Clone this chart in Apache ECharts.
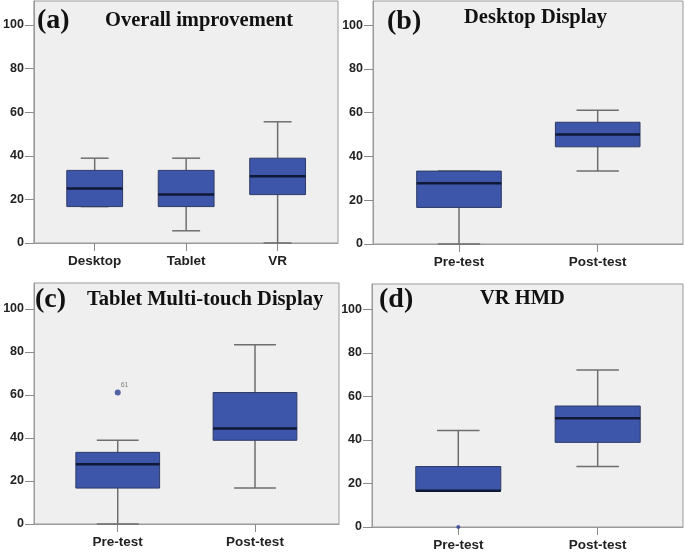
<!DOCTYPE html>
<html>
<head>
<meta charset="utf-8">
<script src="https://cdn.jsdelivr.net/npm/echarts@6/dist/echarts.min.js"></script>
<style>
html,body{margin:0;padding:0;background:#fff;}
#chart{width:685px;height:552px;}
</style>
</head>
<body>
<div id="chart"></div>
<script>
// ---- data ----
const catsA = ['Desktop', 'Tablet', 'VR'];
const catsPrePost = ['Pre-test', 'Post-test'];
const yTicks = [0, 20, 40, 60, 80, 100];
// [min, Q1, median, Q3, max]
const boxA = [[16.7, 16.7, 25.0, 33.3, 38.9], [5.6, 16.7, 22.2, 33.3, 38.9], [0, 22.2, 30.6, 38.9, 55.6]];
const boxB = [[0, 16.7, 27.8, 33.3, 33.3], [33.3, 44.4, 50.0, 55.6, 61.1]];
const boxC = [[0, 16.7, 27.8, 33.3, 38.9], [16.7, 38.9, 44.4, 61.1, 83.3]];
const boxD = [[16.7, 16.7, 16.7, 27.8, 44.4], [27.8, 38.9, 50.0, 55.6, 72.2]];
// outliers: [category index, value, label]
const outC = [[0, 61.1, '61']];
const outD = [[0, 0, '']];
const panelTags = ['(a)', '(b)', '(c)', '(d)'];
const panelTitles = ['Overall improvement', 'Desktop Display', 'Tablet Multi-touch Display', 'VR HMD'];

// ---- layout ----
const panels = [
  { cats: catsA, box: boxA, out: [], grid: { left: 30, top: 1, width: 308, height: 242 }, xr: [-0.665, 2.66], ymax: 111,
    tag: [37, 21], title: [105, 21] },
  { cats: catsPrePost, box: boxB, out: [], grid: { left: 373, top: 1, width: 310, height: 243 }, xr: [-0.62, 1.615], ymax: 111,
    tag: [387, 22], title: [464, 17.5] },
  { cats: catsPrePost, box: boxC, out: outC, grid: { left: 34, top: 283, width: 305, height: 241 }, xr: [-0.61, 1.612], ymax: 112,
    tag: [35, 300], title: [87, 299.5] },
  { cats: catsPrePost, box: boxD, out: outD, grid: { left: 372, top: 284, width: 311, height: 244 }, xr: [-0.619, 1.612], ymax: 111.7,
    tag: [379, 300], title: [480, 298.5] }
];

const BOX_W = 0.61;
const FILL = '#3d56aa', EDGE = '#2e3a66', WHISK = '#6e6e6e', MED = '#0f1834';
const AXIS_C = '#9a9a9a';

function renderBox(params, api) {
  const x = api.value(0);
  const vmin = api.value(1), q1 = api.value(2), med = api.value(3), q3 = api.value(4), vmax = api.value(5);
  const w = api.size([BOX_W, 0])[0];
  const pMin = api.coord([x, vmin]), pQ1 = api.coord([x, q1]), pMed = api.coord([x, med]);
  const pQ3 = api.coord([x, q3]), pMax = api.coord([x, vmax]);
  const cx = pMin[0];
  const cap = w / 2;
  const lineStyle = { stroke: WHISK, lineWidth: 1.5 };
  const children = [
    { type: 'line', shape: { x1: cx, y1: pMin[1], x2: cx, y2: pQ1[1] }, style: lineStyle },
    { type: 'line', shape: { x1: cx, y1: pQ3[1], x2: cx, y2: pMax[1] }, style: lineStyle },
    { type: 'line', shape: { x1: cx - cap / 2, y1: pMin[1], x2: cx + cap / 2, y2: pMin[1] }, style: lineStyle },
    { type: 'line', shape: { x1: cx - cap / 2, y1: pMax[1], x2: cx + cap / 2, y2: pMax[1] }, style: lineStyle },
    { type: 'rect', shape: { x: cx - w / 2, y: pQ3[1], width: w, height: pQ1[1] - pQ3[1] },
      style: { fill: FILL, stroke: EDGE, lineWidth: 1 } },
    { type: 'line', shape: { x1: cx - w / 2, y1: pMed[1], x2: cx + w / 2, y2: pMed[1] },
      style: { stroke: MED, lineWidth: 2.5 } }
  ];
  return { type: 'group', children: children };
}

const option = { animation: false, backgroundColor: '#ffffff', grid: [], xAxis: [], yAxis: [], series: [], title: [] };

panels.forEach((p, i) => {
  option.grid.push(Object.assign({ show: true, backgroundColor: '#efefef', borderColor: AXIS_C, borderWidth: 1, containLabel: false }, p.grid));
  const cats = p.cats;
  const idx = cats.map((c, k) => k);
  option.xAxis.push({
    type: 'value', gridIndex: i, min: p.xr[0], max: p.xr[1], position: 'bottom',
    axisLine: { show: true, onZero: false, lineStyle: { color: AXIS_C, width: 1 } },
    axisTick: { show: true, customValues: idx, length: 8, lineStyle: { color: '#8a8a8a', width: 1 } },
    axisLabel: { show: true, customValues: idx, margin: 11, formatter: v => cats[Math.round(v)] || '',
      color: '#222', fontFamily: 'Liberation Sans, Arial, sans-serif', fontWeight: 'bold', fontSize: 13.5 },
    splitLine: { show: false }
  });
  option.yAxis.push({
    type: 'value', gridIndex: i, min: 0, max: p.ymax, position: 'left',
    axisLine: { show: true, onZero: false, lineStyle: { color: AXIS_C, width: 1 } },
    axisTick: { show: true, customValues: yTicks, length: 9, lineStyle: { color: '#8a8a8a', width: 1 } },
    axisLabel: { show: true, customValues: yTicks, margin: 10,
      color: '#222', fontFamily: 'Liberation Sans, Arial, sans-serif', fontWeight: 'bold', fontSize: 12.5 },
    splitLine: { show: false }
  });
  option.series.push({
    type: 'custom', xAxisIndex: i, yAxisIndex: i,
    data: p.box.map((b, k) => [k].concat(b)),
    encode: { x: 0, y: [1, 2, 3, 4, 5] },
    renderItem: renderBox, clip: false, z: 3
  });
  if (p.out.length) {
    option.series.push({
      type: 'scatter', xAxisIndex: i, yAxisIndex: i,
      data: p.out.map(o => ({ value: [o[0], o[1]], label: o[2] })),
      symbol: 'circle', symbolSize: i === 3 ? 4 : 6,
      itemStyle: { color: '#2a3f95' },
      label: { show: true, position: [6, -8], formatter: d => d.data.label,
        fontSize: 7, color: '#666', fontFamily: 'Liberation Sans, Arial, sans-serif' },
      z: 4
    });
  }
  option.title.push({
    text: panelTags[i], left: p.tag[0], top: p.tag[1] - 14, padding: 0,
    textStyle: { fontFamily: 'Liberation Serif, Times New Roman, serif', fontWeight: 'bold', fontSize: 28, lineHeight: 28, color: '#111' }
  });
  option.title.push({
    text: panelTitles[i], left: p.title[0], top: p.title[1] - 10.25, padding: 0,
    textStyle: { fontFamily: 'Liberation Serif, Times New Roman, serif', fontWeight: 'bold', fontSize: 20.5, lineHeight: 20.5, color: '#111' }
  });
});

const chart = echarts.init(document.getElementById('chart'), null, { renderer: 'canvas' });
chart.setOption(option);
</script>
</body>
</html>
